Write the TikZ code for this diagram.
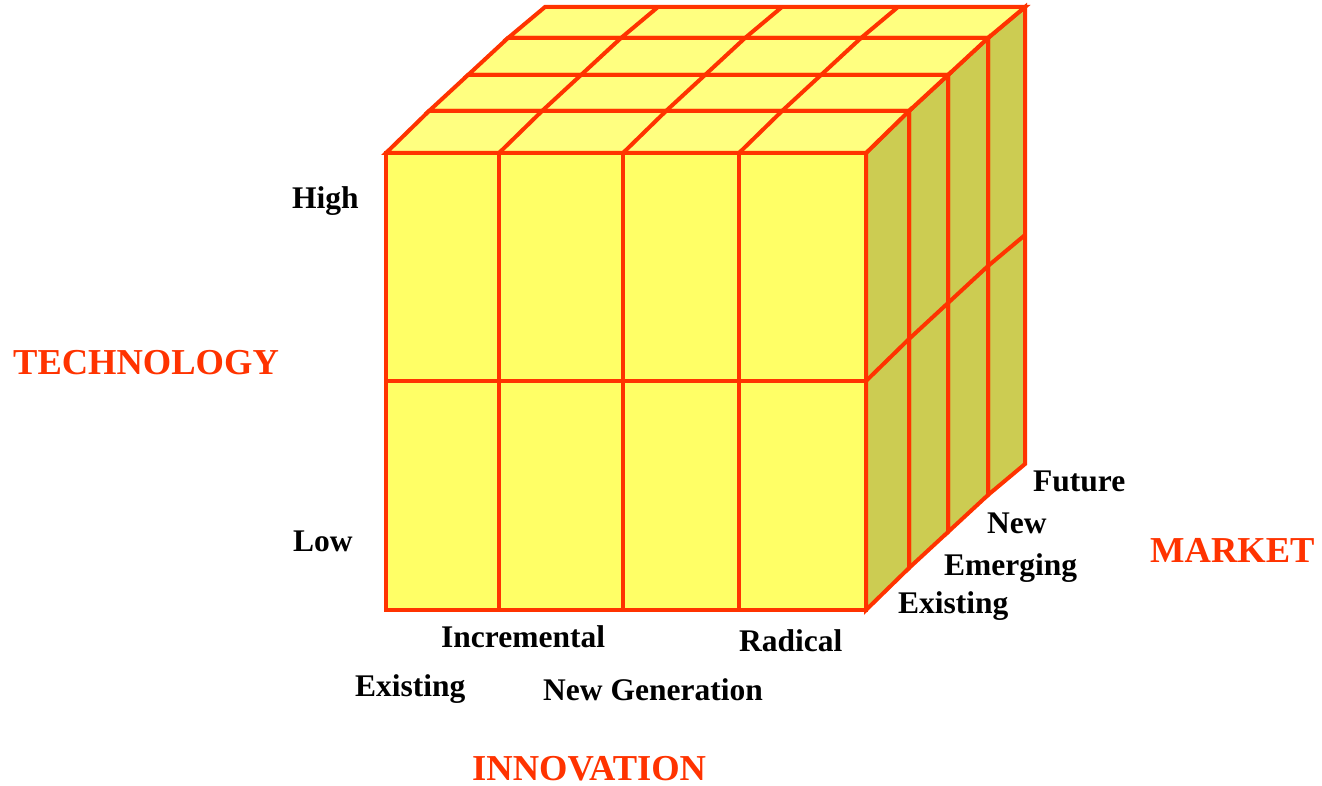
\documentclass[tikz,border=0pt]{standalone}
\usepackage{fontspec}
\setmainfont{Liberation Serif}
\definecolor{edge}{RGB}{255,51,0}
\definecolor{frontc}{RGB}{255,255,102}
\definecolor{topc}{RGB}{255,255,128}
\definecolor{sidec}{RGB}{204,204,82}
\begin{document}
\begin{tikzpicture}[x=1pt,y=-1pt,
  cubeline/.style={draw=edge,line width=4pt,line join=miter},
  lab/.style={anchor=base west,inner sep=0pt,font=\fontsize{31.5}{34}\selectfont\bfseries},
  axlab/.style={anchor=base west,inner sep=0pt,text=edge,font=\fontsize{36.5}{40}\selectfont\bfseries}]
\useasboundingbox (0,0) rectangle (1322,786);
% slabs from back to front
\foreach \ax/\ay/\bx/\by in {122/-115/159/-146, 82/-78/122/-115, 43/-42/82/-78, 0/0/43/-42}{
  % right face
  \filldraw[cubeline,fill=sidec] ({866+\ax},{153+\ay}) -- ({866+\bx},{153+\by}) -- ({866+\bx},{610+\by}) -- ({866+\ax},{610+\ay}) -- cycle;
  \draw[cubeline] ({866+\ax},{381+\ay}) -- ({866+\bx},{381+\by});
  % top face
  \filldraw[cubeline,fill=topc] ({386+\ax},{153+\ay}) -- ({866+\ax},{153+\ay}) -- ({866+\bx},{153+\by}) -- ({386+\bx},{153+\by}) -- cycle;
  \foreach \c in {499,623,739}{
    \draw[cubeline] ({\c+\ax},{153+\ay}) -- ({\c+\bx},{153+\by});
  }
}
% front face
\filldraw[cubeline,fill=frontc] (386,153) rectangle (866,610);
\foreach \c in {499,623,739}{
  \draw[cubeline] (\c,153) -- (\c,610);
}
\draw[cubeline] (386,381) -- (866,381);
% labels
\node[lab] (high) at (292,209) {High};
\node[lab] (low) at (293,551) {Low};
\node[axlab] (tech) at (13,374) {TECHNOLOGY};
\node[lab] (incr) at (441,647) {Incremental};
\node[lab] (radi) at (739,651) {Radical};
\node[lab] (iexist) at (355,696) {Existing};
\node[lab] (newgen) at (543,700) {New Generation};
\node[axlab] (innov) at (472,780) {INNOVATION};
\node[lab] (future) at (1033,491) {Future};
\node[lab] (new) at (987,533) {New};
\node[lab] (emerg) at (944,575) {Emerging};
\node[lab] (mexist) at (898,613) {Existing};
\node[axlab] (market) at (1150,562) {MARKET};
\end{tikzpicture}
\end{document}
